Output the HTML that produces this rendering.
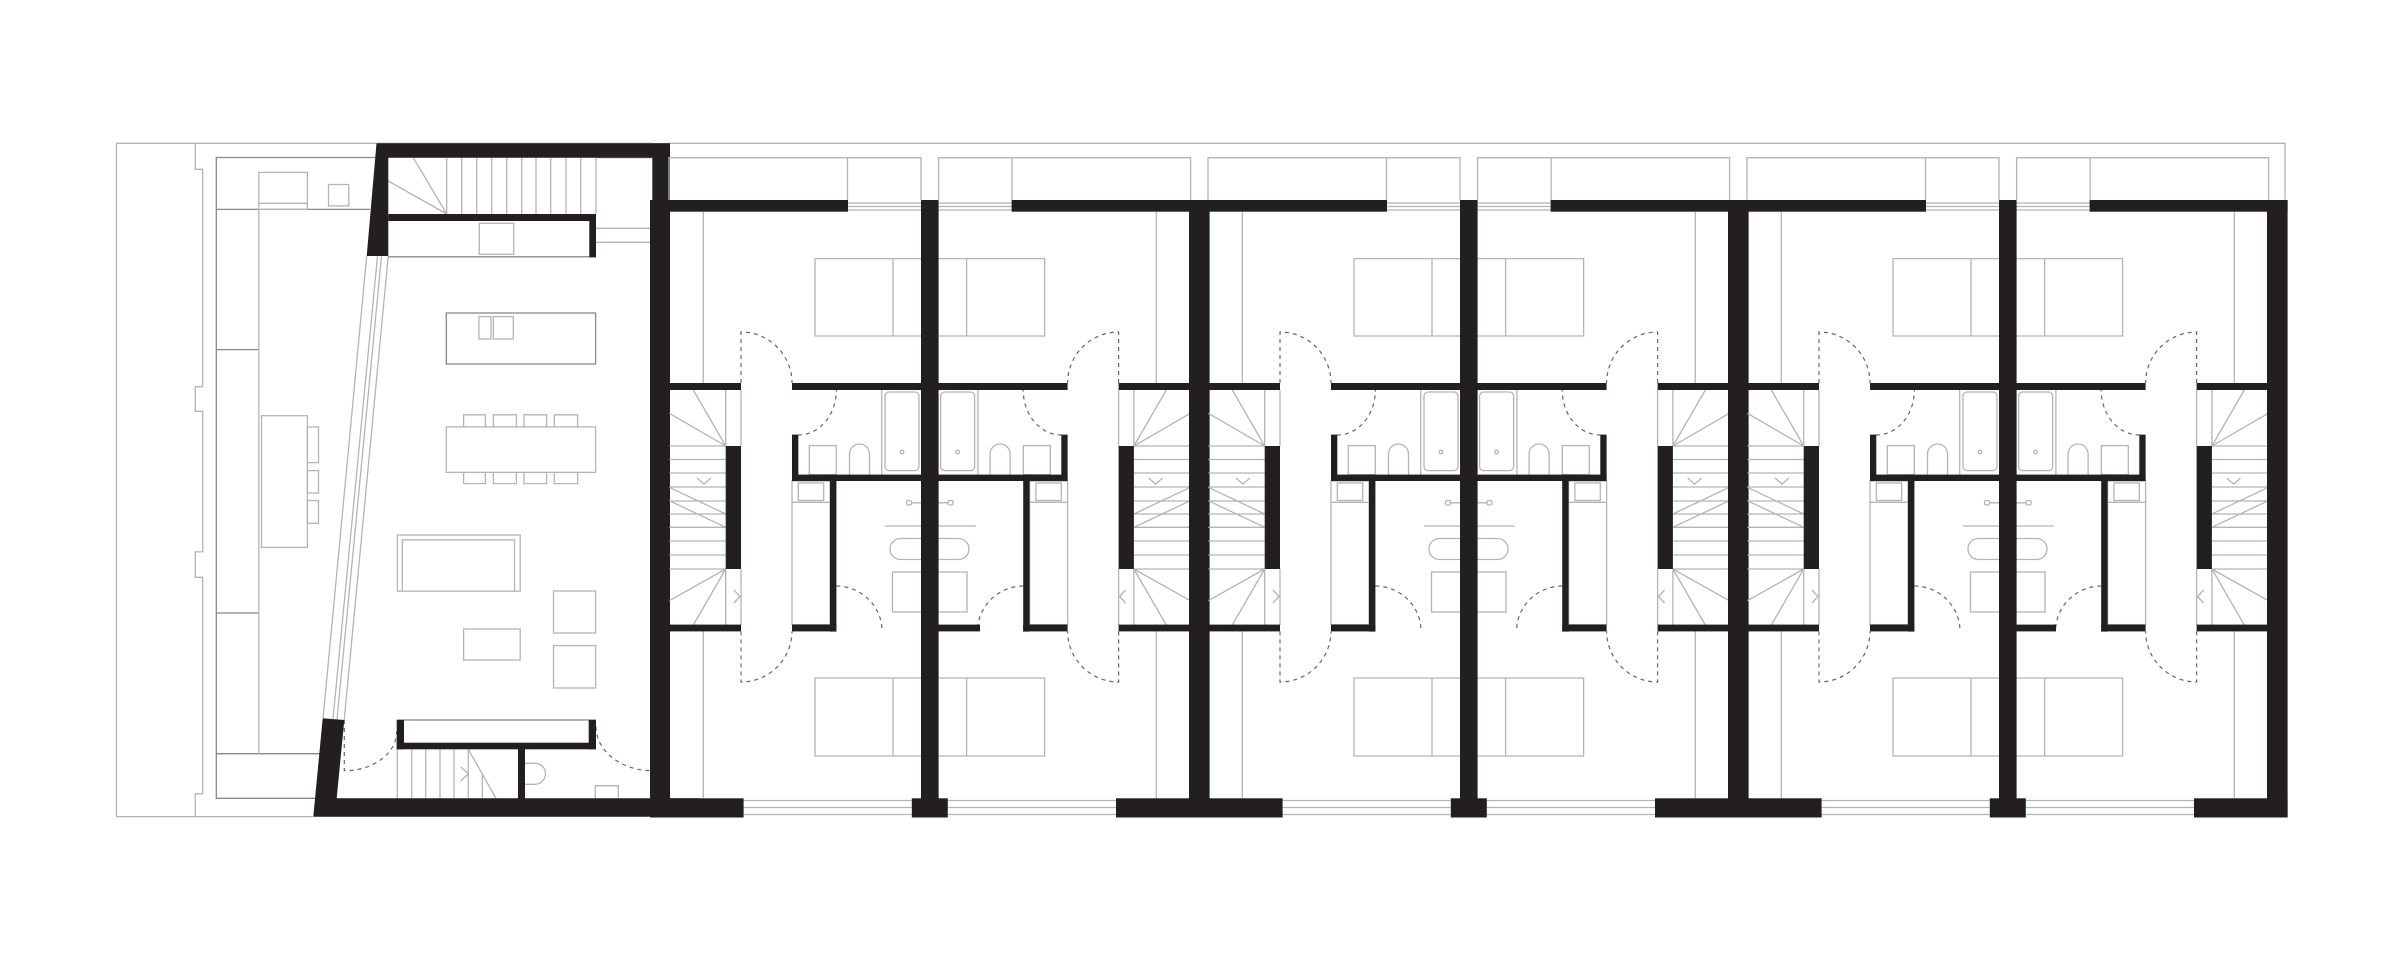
<!DOCTYPE html>
<html><head><meta charset="utf-8"><style>
html,body{margin:0;padding:0;background:#fff;}
svg{display:block;}
.t{fill:none;stroke:#b4b4b4;stroke-width:1.3;}
.d{fill:none;stroke:#888;stroke-width:1.3;}
.ds{fill:none;stroke:#666;stroke-width:1.2;stroke-dasharray:4 4;}
.k{fill:#231f20;}
</style></head><body>
<svg width="2401" height="961" viewBox="0 0 2401 961" xmlns="http://www.w3.org/2000/svg">
<defs>
<g id="ua">
 <path class="t" d="M669,200 V157.7 H921 V200 M847.5,157.7 V200"/>
 <path class="t" d="M848,203 H929.8 M848,206.5 H929.8 M848,210 H929.8"/>
 <path class="t" d="M743.6,800.5 H911.8 M743.6,807.5 H911.8 M743.6,814.5 H911.8"/>
 <path class="t" d="M703.3,211.7 V383 M703.3,631.4 V798"/>
 <path class="t" d="M921,258.6 H815 V336 H921 M893,258.6 V336"/>
 <path class="t" d="M921,678 H815 V756 H921 M893,678 V756"/>
 <path class="t" d="M669.3,446 H725.7 M669.3,459.5 H725.7 M669.3,473 H725.7 M669.3,487 H725.7 M669.3,501 H725.7 M669.3,514 H725.7 M669.3,527.3 H725.7 M669.3,541 H725.7 M669.3,555 H725.7 M669.3,569 H725.7
 M669.3,487.3 L725.7,514 M669.3,500.7 L725.7,527.3
 M725.7,446 L693.3,390 M725.7,446 L669.3,413.3
 M725.7,569 L669.3,600.7 M725.7,569 L693.3,625
 M725.7,390 V446 M725.7,569 V625 M741,390 V446 M741,569 V625
 M697,478 L704,484 L711,478 M734,590 L740,596.5 L734,603"/>
 <path class="ds" d="M741,383 V332 A51,51 0 0 1 792,383"/>
 <path class="ds" d="M741,631.4 V682 A51,51 0 0 0 792,631.4"/>
 <path class="ds" d="M798,435 A38,45 0 0 0 836.4,390"/>
 <path class="ds" d="M836.4,586 A46,45 0 0 1 882,631"/>
 <path class="t" d="M881.7,390 V474.6"/>
 <rect class="t" x="885" y="392" width="34" height="78.6" rx="4"/>
 <circle class="t" cx="902" cy="452" r="1.8"/>
 <path class="t" d="M849.5,474.6 V454 A10,10 0 0 1 869.5,454 V474.6"/>
 <rect class="t" x="809.3" y="445.6" width="27" height="29"/>
 <rect class="t" x="792" y="481" width="38" height="143.6"/>
 <rect class="t" x="798.3" y="483" width="25.4" height="17.5"/>
 <path class="t" d="M792,502.3 H830"/>
 <rect class="k" x="650" y="200" width="19.3" height="617.5"/>
 <rect class="k" x="650" y="200" width="198" height="11.7"/>
 <rect class="k" x="650" y="798.3" width="93.6" height="19.2"/>
 <rect class="k" x="911.8" y="798.3" width="18" height="19.2"/>
 <rect class="k" x="669" y="383" width="72" height="7"/>
 <rect class="k" x="792" y="383" width="137.8" height="7"/>
 <rect class="k" x="669" y="624.6" width="72" height="6.8"/>
 <rect class="k" x="792" y="624.6" width="44.4" height="6.8"/>
 <rect class="k" x="725.7" y="446" width="15.3" height="123"/>
 <rect class="k" x="792" y="434.6" width="6.3" height="46.4"/>
 <rect class="k" x="792" y="474.6" width="137.8" height="6.4"/>
 <rect class="k" x="830" y="474.6" width="6.4" height="157"/>
</g>
<g id="pair">
 <rect class="t" x="906.5" y="500.5" width="5" height="4.5" rx="1.5"/>
 <rect class="t" x="948" y="500.5" width="5" height="4.5" rx="1.5"/>
 <path class="t" d="M911.5,502.8 H948 M885,526 H975.7"/>
 <rect class="t" x="890" y="538.5" width="79" height="21" rx="10.5"/>
 <rect class="t" x="892.5" y="572" width="74.5" height="40"/>
 <use href="#ua"/>
 <use href="#ua" transform="translate(1859.6,0) scale(-1,1)"/>
 <rect class="k" x="921" y="200" width="17.6" height="617.5"/>
</g>
</defs>

<path class="t" d="M652,143.3 H116.5 V816.6 H313"/>
<path class="t" d="M669,143.3 H2285 V200"/>
<path class="t" d="M195.3,143.3 V169.3 H202.7 V386.7 H195.3 V411.3 H202.7 V551.9 H195.3 V577.3 H202.7 V793.8 H195.3 V816.6"/>
<path class="d" d="M376,157.5 H216.3 V798.3 H337"/>
<path class="d" d="M216.3,209.4 H370 M216.3,349.6 H258.8 M216.3,613 H258.8 M216.3,753.7 H328"/>
<path class="t" d="M258.8,209.4 V753.7"/>
<rect class="t" x="258.8" y="172.4" width="48.6" height="37"/>
<path class="t" d="M258.8,203.3 H307.4"/>
<rect class="t" x="328.5" y="184.5" width="20.3" height="21.4"/>
<rect class="t" x="261.5" y="415.7" width="45.9" height="131.7"/>
<rect class="t" x="307.4" y="427" width="11.1" height="35.6"/>
<rect class="t" x="307.4" y="470.6" width="11.1" height="22.4"/>
<rect class="t" x="307.4" y="500.5" width="11.1" height="22.8"/>
<path class="t" d="M366.7,256.3 L323.1,718 M388.2,256.3 L344.2,720.2 M377.5,256.3 L333,719 M381.5,256.3 L337,719.5"/>
<path class="t" d="M446.7,157.7 V214 M461.7,157.7 V214 M476.7,157.7 V214 M491.7,157.7 V214 M506.7,157.7 V214 M521.7,157.7 V214 M536,157.7 V214 M550.7,157.7 V214 M566,157.7 V214 M580.7,157.7 V214 M596,157.7 V214
M446.7,214 L413.3,157.7 M446.7,214 L388.3,181 M596,228.3 H652.3 M596,242.3 H652.3 M596,157.7 H652.3"/>
<path class="d" d="M388.3,256.8 H596"/>
<rect class="t" x="479.3" y="223.3" width="34.4" height="31"/>
<rect class="d" x="446.3" y="313" width="149.3" height="51"/>
<rect class="t" x="478.9" y="316.6" width="12.1" height="22.4"/>
<rect class="t" x="493.4" y="316.6" width="19.9" height="22.4"/>
<rect class="t" x="446.3" y="426.9" width="149.3" height="45.5"/>
<path class="t" d="M463.6,426.9 V414.8 H485.4 V426.9 M493.4,426.9 V414.8 H516.4 V426.9 M524,426.9 V414.8 H546.6 V426.9 M554.3,426.9 V414.8 H577.6 V426.9
M463.6,472.4 V483.6 H485.4 V472.4 M493.4,472.4 V483.6 H516.4 V472.4 M524,472.4 V483.6 H546.6 V472.4 M554.3,472.4 V483.6 H577.6 V472.4"/>
<rect class="t" x="397.4" y="535" width="122.8" height="56.2"/>
<path class="t" d="M402.3,591.2 V539.8 H514.5 V591.2"/>
<rect class="t" x="553.5" y="591" width="42.1" height="42"/>
<rect class="t" x="553.5" y="645.6" width="42.1" height="42.4"/>
<rect class="t" x="463.6" y="629" width="56.6" height="31"/>
<path class="d" d="M396.7,720 H596"/>
<path class="t" d="M397.3,749.3 V798.3 M411.7,749.3 V798.3 M425.7,749.3 V798.3 M440,749.3 V798.3 M454,749.3 V798.3 M468.3,749.3 V798.3 M482.3,775 V798.3 M468.3,749.3 L496,798.3 M460.7,766.7 L468.3,774 L460.7,781"/>
<path class="t" d="M525,763.3 H535 A10.5,10.5 0 0 1 535,784.3 H525"/>
<path class="t" d="M595.3,798.3 V785.7 H618.3 V798.3"/>
<path class="ds" d="M344.3,720 V770.7 A52,39 0 0 0 396.7,731.7"/>
<path class="ds" d="M596,726.7 A56,44 0 0 0 651.7,770.7"/>
<polygon class="k" points="376.5,143.3 670,143.3 670,157.7 388.3,157.7 388.3,256 366.7,256"/>
<rect class="k" x="652.3" y="143.3" width="17.7" height="674"/>
<rect class="k" x="388.3" y="214" width="207.7" height="7"/>
<rect class="k" x="589.3" y="214" width="6.7" height="43.3"/>
<rect class="k" x="396.7" y="720" width="7.3" height="29.3"/>
<rect class="k" x="588.7" y="720" width="7.3" height="29.3"/>
<rect class="k" x="396.7" y="742.7" width="199.3" height="6.6"/>
<rect class="k" x="518" y="749" width="7" height="50"/>
<polygon class="k" points="322.7,718.3 344.3,720 336.7,798.3 700,798.3 700,816.7 313.3,816.7"/>

<use href="#pair"/>
<use href="#pair" transform="translate(539,0)"/>
<use href="#pair" transform="translate(1078,0)"/>
<rect class="k" x="938" y="624.6" width="42" height="6.8"/>
<rect class="k" x="2016" y="624.6" width="40" height="6.8"/>
<rect class="k" x="2267" y="200" width="18.5" height="617.5"/>
</svg>
</body></html>
